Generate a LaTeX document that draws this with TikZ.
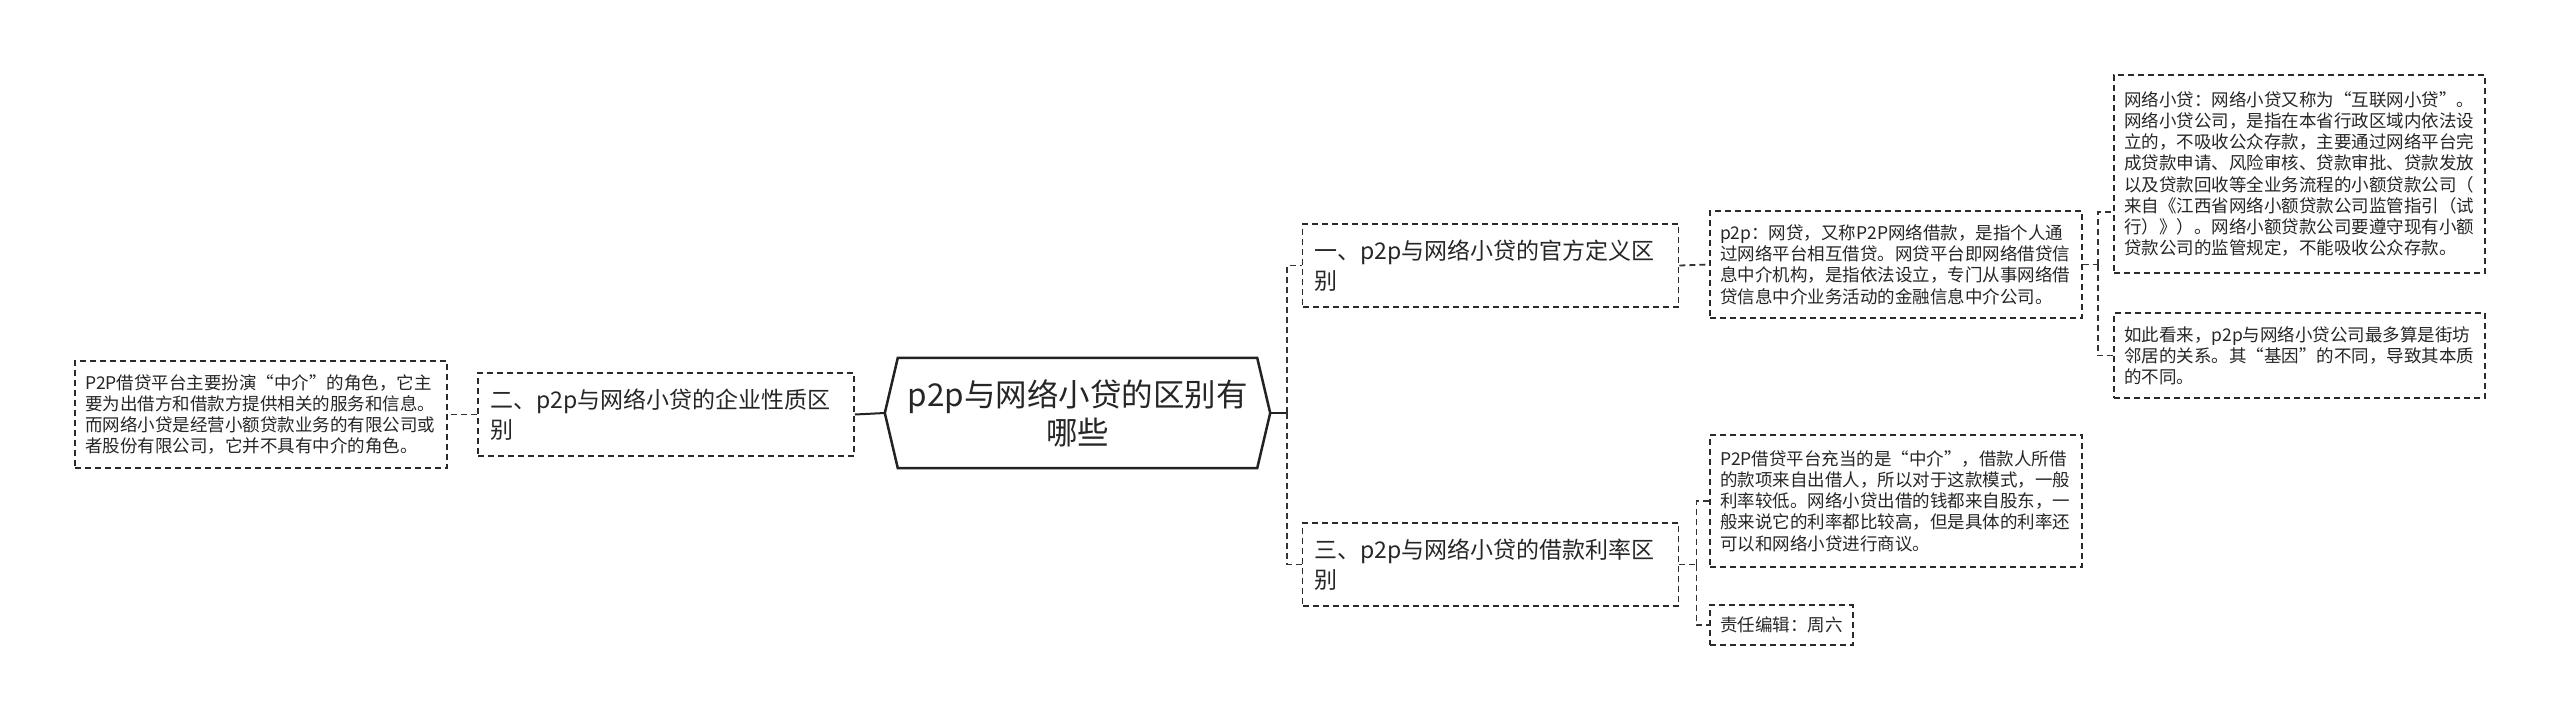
\documentclass[tikz,border=0pt]{standalone}
\usepackage{fontspec}
\setmainfont{Noto Sans CJK SC}
\definecolor{boxc}{HTML}{2A2A2A}
\definecolor{connc}{HTML}{333333}
\definecolor{hexc}{HTML}{222222}
\begin{document}
\begin{tikzpicture}[x=1pt,y=-1pt,
  dsh/.style={dash pattern=on 6pt off 4pt},
  leaf/.style={draw=boxc, dsh, line width=1.7pt, align=left, inner xsep=10pt, inner ysep=2pt,
    font=\fontsize{17.5}{21.2}\selectfont, text=black!85, anchor=center},
  lvl/.style={draw=boxc, dsh, line width=1.8pt, align=left, inner xsep=12pt, inner ysep=2pt,
    font=\fontsize{23}{30}\selectfont, text=black!85, anchor=center,
    text width=352pt, minimum height=83pt},
  conn/.style={draw=connc, dsh, line width=1.8pt},
  solidc/.style={draw=hexc, line width=2.5pt}
]
\useasboundingbox (0,0) rectangle (2560,721);
\fill[white] (0,0) rectangle (2560,721);

% central node
\node[minimum width=385pt, minimum height=110pt, inner sep=0pt, align=center,
  font=\fontsize{31.5}{38}\selectfont, text=black!85] (c) at (1077.5,413)
  {p2p与网络小贷的区别有\\哪些};
\draw[solidc, line join=miter] (c.west) -- ([xshift=13pt]c.north west) -- ([xshift=-13pt]c.north east)
  -- (c.east) -- ([xshift=-13pt]c.south east) -- ([xshift=13pt]c.south west) -- cycle;

% level 1
\node[lvl] (b1) at (1490.5,265.5) {一、p2p与网络小贷的官方定义区\\别};
\node[lvl] (b2) at (666,414.5) {二、p2p与网络小贷的企业性质区\\别};
\node[lvl] (b3) at (1490.5,564.5) {三、p2p与网络小贷的借款利率区\\别};

% leaves
\node[leaf, text width=352pt, minimum height=107pt] (l2) at (261,414.5)
{P2P借贷平台主要扮演“中介”的角色，它主\\
要为出借方和借款方提供相关的服务和信息。\\
而网络小贷是经营小额贷款业务的有限公司或\\
者股份有限公司，它并不具有中介的角色。};

\node[leaf, text width=352pt, minimum height=107pt] (l1) at (1896,264.5)
{p2p：网贷，又称P2P网络借款，是指个人通\\
过网络平台相互借贷。网贷平台即网络借贷信\\
息中介机构，是指依法设立，专门从事网络借\\
贷信息中介业务活动的金融信息中介公司。};

\node[leaf, text width=351pt, minimum height=198pt] (l11) at (2299.5,174)
{网络小贷：网络小贷又称为“互联网小贷”。\\
网络小贷公司，是指在本省行政区域内依法设\\
立的，不吸收公众存款，主要通过网络平台完\\
成贷款申请、风险审核、贷款审批、贷款发放\\
以及贷款回收等全业务流程的小额贷款公司（\\
来自《江西省网络小额贷款公司监管指引（试\\
行）》）。网络小额贷款公司要遵守现有小额\\
贷款公司的监管规定，不能吸收公众存款。};

\node[leaf, text width=351pt, minimum height=85pt] (l12) at (2299.5,355.5)
{如此看来，p2p与网络小贷公司最多算是街坊\\
邻居的关系。其“基因”的不同，导致其本质\\
的不同。};

\node[leaf, text width=352pt, minimum height=132pt] (l3) at (1896,501)
{P2P借贷平台充当的是“中介”，借款人所借\\
的款项来自出借人，所以对于这款模式，一般\\
利率较低。网络小贷出借的钱都来自股东，一\\
般来说它的利率都比较高，但是具体的利率还\\
可以和网络小贷进行商议。};

\node[leaf, minimum height=40pt] (l4) at (1781.5,625) {责任编辑：周六};

% connectors
\draw[solidc, line width=2pt] (c.west) -- (b2.east);
\draw[conn] (b2.west) -- (l2.east);

\draw[solidc, line width=2pt] (c.east) -- ++(17,0) coordinate (j0);
\draw[conn] (j0) |- (b1.west);
\draw[conn] (j0) |- (b3.west);

\draw[conn] (b1.east) -- (l1.west);
\draw[conn] (l1.east) -- ++(15,0) coordinate (j1);
\draw[conn] (j1) |- ([yshift=-38pt]l11.west);
\draw[conn] (j1) |- (l12.west);

\draw[conn] (b3.east) -- ++(17,0) coordinate (j3);
\draw[conn] (j3) |- (l3.west);
\draw[conn] (j3) |- (l4.west);
\end{tikzpicture}
\end{document}
